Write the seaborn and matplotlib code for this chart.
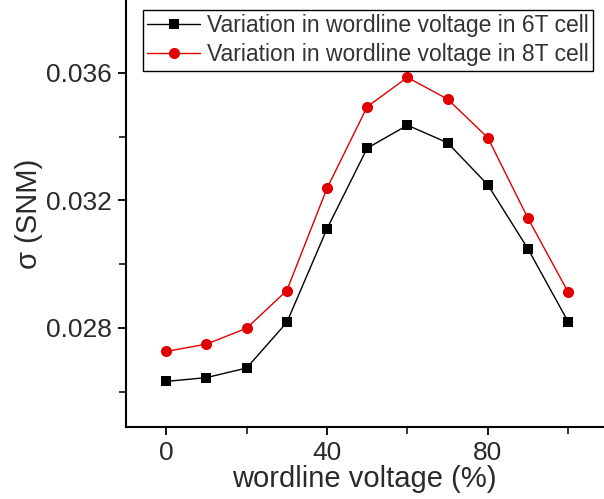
import matplotlib.pyplot as plt
import pandas as pd
import seaborn as sns

# values
voltage = [0, 10, 20, 30, 40, 50, 60, 70, 80, 90, 100]
snm_6t = [0.02632, 0.02644, 0.02674, 0.02817, 0.03111, 0.03364, 0.03436, 0.03381, 0.03249, 0.03048, 0.02819]
snm_8t = [0.02726, 0.02749, 0.02799, 0.02917, 0.03238, 0.03494, 0.03586, 0.03518, 0.03397, 0.03144, 0.02912]
labels = ["Variation in wordline voltage in 6T cell", "Variation in wordline voltage in 8T cell"]

df6 = pd.DataFrame({"v": voltage, "snm": snm_6t})
df8 = pd.DataFrame({"v": voltage, "snm": snm_8t})

sns.set_style("ticks")
plt.rcParams["font.family"] = ["Liberation Sans", "DejaVu Sans"]

fig = plt.figure(figsize=(6.04, 4.99), dpi=100)
ax = fig.add_axes([0.2086, 0.1443, 0.79, 0.8557])

sns.lineplot(data=df6, x="v", y="snm", ax=ax, color="black", marker="s",
             markersize=7, markeredgewidth=0, linewidth=1, label=labels[0])
sns.lineplot(data=df8, x="v", y="snm", ax=ax, color="#e00000", marker="o",
             markersize=8, markeredgewidth=0, linewidth=1, label=labels[1])

ax.set_xlim(-10, 108.7)
ax.set_ylim(0.02489, 0.03829)
ax.set_xticks([0, 40, 80])
ax.set_xticks([20, 60, 100], minor=True)
ax.set_yticks([0.028, 0.032, 0.036])
ax.set_yticks([0.026, 0.030, 0.034], minor=True)
ax.set_yticklabels(["0.028", "0.032", "0.036"])

sns.despine(ax=ax)
for s in ["left", "bottom"]:
    ax.spines[s].set_linewidth(1.5)
    ax.spines[s].set_color("black")
ax.tick_params(which="major", length=6, width=1.3, labelsize=19, colors="black", pad=4)
ax.tick_params(which="minor", length=5, width=1.3)
for t in ax.get_xticklabels() + ax.get_yticklabels():
    t.set_color("#2a2a2a")

ax.set_xlabel("wordline voltage (%)", fontsize=21, color="#2a2a2a", labelpad=0)
ax.set_ylabel("σ (SNM)", fontsize=21, color="#2a2a2a", labelpad=2)

leg = ax.legend(loc="upper left", bbox_to_anchor=(0.035, 0.977), borderaxespad=0,
                fontsize=16.5, frameon=True, fancybox=False, framealpha=1,
                edgecolor="black", borderpad=0.2, handlelength=2.3,
                handletextpad=0.3, labelspacing=0.25)
leg.get_frame().set_linewidth(1)
for t in leg.get_texts():
    t.set_color("#333333")

fig.savefig("out.png", dpi=100)
